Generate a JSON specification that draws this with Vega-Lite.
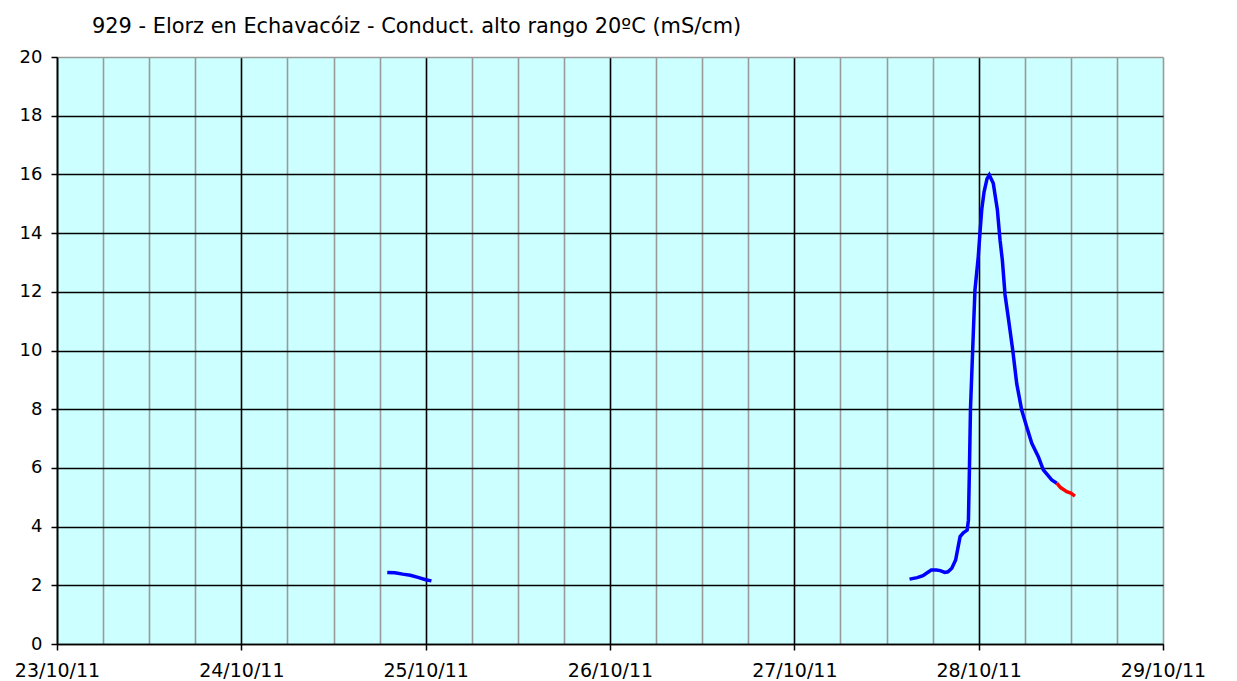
{
  "$schema": "https://vega.github.io/schema/vega-lite/v6.json",
  "width": 1106,
  "height": 587,
  "autosize": {"type": "none"},
  "padding": {"left": 57, "top": 57, "right": 74, "bottom": 37},
  "background": "white",
  "config": {"view": {"fill": "#CCFFFF", "stroke": null}},
  "title": {
    "text": "929 - Elorz en Echavacóiz - Conduct. alto rango 20ºC (mS/cm)",
    "anchor": "start",
    "frame": "group",
    "dx": 35,
    "offset": -6,
    "baseline": "alphabetic",
    "font": "DejaVu Sans",
    "fontSize": 20.9,
    "fontWeight": "normal",
    "color": "#000000"
  },
  "data": {
    "values": [
      {"t": "2011-10-24T19:00:00", "v": 2.44, "seg": "a"},
      {"t": "2011-10-24T20:00:00", "v": 2.43, "seg": "a"},
      {"t": "2011-10-24T21:00:00", "v": 2.38, "seg": "a"},
      {"t": "2011-10-24T22:00:00", "v": 2.34, "seg": "a"},
      {"t": "2011-10-24T23:00:00", "v": 2.27, "seg": "a"},
      {"t": "2011-10-25T00:00:00", "v": 2.19, "seg": "a"},
      {"t": "2011-10-25T00:45:00", "v": 2.15, "seg": "a"},
      {"t": "2011-10-27T15:00:00", "v": 2.21, "seg": "b"},
      {"t": "2011-10-27T16:00:00", "v": 2.26, "seg": "b"},
      {"t": "2011-10-27T16:45:00", "v": 2.33, "seg": "b"},
      {"t": "2011-10-27T17:15:00", "v": 2.42, "seg": "b"},
      {"t": "2011-10-27T17:50:00", "v": 2.52, "seg": "b"},
      {"t": "2011-10-27T18:30:00", "v": 2.52, "seg": "b"},
      {"t": "2011-10-27T19:00:00", "v": 2.5, "seg": "b"},
      {"t": "2011-10-27T19:35:00", "v": 2.44, "seg": "b"},
      {"t": "2011-10-27T20:00:00", "v": 2.46, "seg": "b"},
      {"t": "2011-10-27T20:30:00", "v": 2.58, "seg": "b"},
      {"t": "2011-10-27T21:00:00", "v": 2.86, "seg": "b"},
      {"t": "2011-10-27T21:20:00", "v": 3.32, "seg": "b"},
      {"t": "2011-10-27T21:35:00", "v": 3.66, "seg": "b"},
      {"t": "2011-10-27T22:00:00", "v": 3.79, "seg": "b"},
      {"t": "2011-10-27T22:30:00", "v": 3.88, "seg": "b"},
      {"t": "2011-10-27T22:40:00", "v": 4.22, "seg": "b"},
      {"t": "2011-10-27T22:48:00", "v": 6.0, "seg": "b"},
      {"t": "2011-10-27T22:56:00", "v": 8.0, "seg": "b"},
      {"t": "2011-10-27T23:13:00", "v": 10.0, "seg": "b"},
      {"t": "2011-10-27T23:31:00", "v": 12.06, "seg": "b"},
      {"t": "2011-10-27T23:57:00", "v": 13.2, "seg": "b"},
      {"t": "2011-10-28T00:10:00", "v": 14.0, "seg": "b"},
      {"t": "2011-10-28T00:24:00", "v": 14.8, "seg": "b"},
      {"t": "2011-10-28T00:42:00", "v": 15.4, "seg": "b"},
      {"t": "2011-10-28T01:05:00", "v": 15.85, "seg": "b"},
      {"t": "2011-10-28T01:23:00", "v": 15.98, "seg": "b"},
      {"t": "2011-10-28T01:54:00", "v": 15.7, "seg": "b"},
      {"t": "2011-10-28T02:26:00", "v": 14.8, "seg": "b"},
      {"t": "2011-10-28T02:47:00", "v": 13.76, "seg": "b"},
      {"t": "2011-10-28T03:05:00", "v": 13.08, "seg": "b"},
      {"t": "2011-10-28T03:26:00", "v": 11.9, "seg": "b"},
      {"t": "2011-10-28T03:52:00", "v": 11.1, "seg": "b"},
      {"t": "2011-10-28T04:26:00", "v": 10.02, "seg": "b"},
      {"t": "2011-10-28T04:57:00", "v": 8.88, "seg": "b"},
      {"t": "2011-10-28T05:36:00", "v": 7.97, "seg": "b"},
      {"t": "2011-10-28T06:15:00", "v": 7.4, "seg": "b"},
      {"t": "2011-10-28T06:55:00", "v": 6.84, "seg": "b"},
      {"t": "2011-10-28T07:46:00", "v": 6.38, "seg": "b"},
      {"t": "2011-10-28T08:25:00", "v": 5.93, "seg": "b"},
      {"t": "2011-10-28T09:31:00", "v": 5.59, "seg": "b"},
      {"t": "2011-10-28T10:10:00", "v": 5.48, "seg": "b"},
      {"t": "2011-10-28T10:10:00", "v": 5.48, "seg": "c"},
      {"t": "2011-10-28T10:40:00", "v": 5.33, "seg": "c"},
      {"t": "2011-10-28T11:28:00", "v": 5.19, "seg": "c"},
      {"t": "2011-10-28T12:00:00", "v": 5.14, "seg": "c"},
      {"t": "2011-10-28T12:32:00", "v": 5.04, "seg": "c"}
    ]
  },
  "mark": {"type": "line", "strokeWidth": 3.5, "interpolate": "linear"},
  "encoding": {
    "x": {
      "field": "t",
      "type": "temporal",
      "scale": {
        "domain": [
          {"year": 2011, "month": 10, "date": 23},
          {"year": 2011, "month": 10, "date": 29}
        ],
        "nice": false
      },
      "axis": {
        "title": null,
        "values": [
          {"year": 2011, "month": 10, "date": 23, "hours": 0},
          {"year": 2011, "month": 10, "date": 23, "hours": 6},
          {"year": 2011, "month": 10, "date": 23, "hours": 12},
          {"year": 2011, "month": 10, "date": 23, "hours": 18},
          {"year": 2011, "month": 10, "date": 24, "hours": 0},
          {"year": 2011, "month": 10, "date": 24, "hours": 6},
          {"year": 2011, "month": 10, "date": 24, "hours": 12},
          {"year": 2011, "month": 10, "date": 24, "hours": 18},
          {"year": 2011, "month": 10, "date": 25, "hours": 0},
          {"year": 2011, "month": 10, "date": 25, "hours": 6},
          {"year": 2011, "month": 10, "date": 25, "hours": 12},
          {"year": 2011, "month": 10, "date": 25, "hours": 18},
          {"year": 2011, "month": 10, "date": 26, "hours": 0},
          {"year": 2011, "month": 10, "date": 26, "hours": 6},
          {"year": 2011, "month": 10, "date": 26, "hours": 12},
          {"year": 2011, "month": 10, "date": 26, "hours": 18},
          {"year": 2011, "month": 10, "date": 27, "hours": 0},
          {"year": 2011, "month": 10, "date": 27, "hours": 6},
          {"year": 2011, "month": 10, "date": 27, "hours": 12},
          {"year": 2011, "month": 10, "date": 27, "hours": 18},
          {"year": 2011, "month": 10, "date": 28, "hours": 0},
          {"year": 2011, "month": 10, "date": 28, "hours": 6},
          {"year": 2011, "month": 10, "date": 28, "hours": 12},
          {"year": 2011, "month": 10, "date": 28, "hours": 18},
          {"year": 2011, "month": 10, "date": 29, "hours": 0}
        ],
        "grid": true,
        "gridColor": {
          "condition": {"test": "hours(datum.value) == 0 && date(datum.value) != 29", "value": "#000000"},
          "value": "#9a9a9a"
        },
        "gridWidth": 1.6,
        "gridOpacity": 1,
        "labelExpr": "hours(datum.value) == 0 ? timeFormat(datum.value, '%d/%m/%y') : ''",
        "tickOpacity": {
          "condition": {"test": "hours(datum.value) == 0", "value": 1},
          "value": 0
        },
        "tickSize": 6,
        "tickWidth": 1.5,
        "tickColor": "#000000",
        "domainColor": "#000000",
        "domainWidth": 1.6,
        "labelFont": "DejaVu Sans",
        "labelFontSize": 19,
        "labelColor": "#000000",
        "labelPadding": 11,
        "labelFlush": false,
        "labelOverlap": false
      }
    },
    "y": {
      "field": "v",
      "type": "quantitative",
      "scale": {"domain": [0, 20], "nice": false},
      "axis": {
        "title": null,
        "values": [0, 2, 4, 6, 8, 10, 12, 14, 16, 18, 20],
        "grid": true,
        "gridColor": {
          "condition": {"test": "datum.value == 20", "value": "#9a9a9a"},
          "value": "#000000"
        },
        "gridWidth": 1.6,
        "gridOpacity": 1,
        "tickColor": "#000000",
        "tickSize": 6,
        "tickWidth": 1.5,
        "domainColor": "#000000",
        "domainWidth": 1.6,
        "labelFont": "DejaVu Sans",
        "labelFontSize": 18,
        "labelColor": "#000000",
        "labelPadding": 9
      }
    },
    "color": {
      "field": "seg",
      "type": "nominal",
      "scale": {"domain": ["a", "b", "c"], "range": ["#0000FF", "#0000FF", "#FF0000"]},
      "legend": null
    }
  }
}
